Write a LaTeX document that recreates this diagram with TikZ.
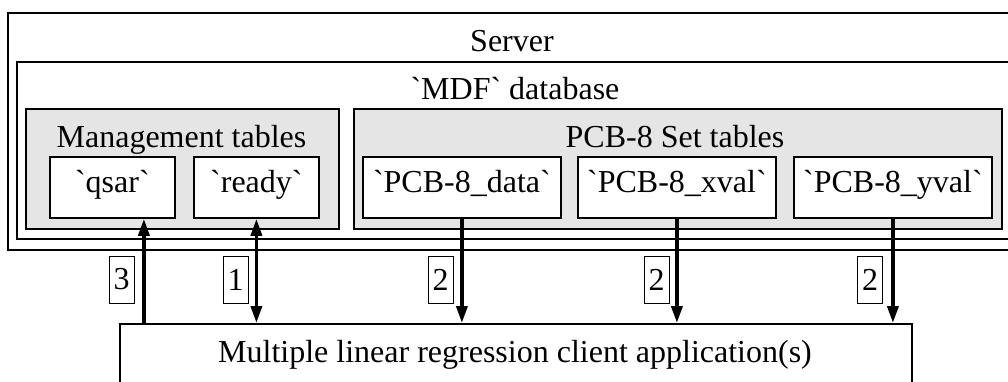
\documentclass[tikz,border=0pt]{standalone}
\usepackage{fontspec}
\setmainfont{Liberation Serif}
\usetikzlibrary{arrows.meta,calc}
\newcommand{\bq}{\textasciigrave}
\begin{document}
\begin{tikzpicture}[x=1pt,y=-1pt,
  txt/.style={font=\fontsize{32}{34}\selectfont},
  box/.style={draw, line width=1.8pt, inner sep=0pt, anchor=north west},
  container/.style={box, fill=gray!20},
  tbl/.style={box, txt, fill=white, minimum height=61pt, text height=22pt, text depth=11pt},
  title/.style={txt, inner sep=0pt, anchor=base},
  tag/.style={txt, draw, line width=1pt, minimum width=25pt, minimum height=47pt, inner sep=0pt},
  flow/.style={line width=3.6pt, -{Triangle[width=11pt,length=17pt]}},
  flowboth/.style={line width=3.6pt, {Triangle[width=11pt,length=17pt]}-{Triangle[width=11pt,length=17pt]}},
]
\useasboundingbox (0,0) rectangle (1008,381);
\clip (0,0) rectangle (1008,381);
% containers
\node[box, minimum width=1030pt, minimum height=237pt] (server) at (7,12) {};
\node[box, minimum width=1020pt, minimum height=177pt] (mdf) at (16,61) {};
\node[container, minimum width=313pt, minimum height=120pt] (mgmt) at (25,108) {};
\node[container, minimum width=648pt, minimum height=120pt] (pcbset) at (353,108) {};
% titles
\node[title] (servert) at (512,51) {Server};
\node[title] (mdft) at (515,99) {\bq MDF\bq\ database};
\node[title] (mgmtt) at (181.5,147) {Management tables};
\node[title] (pcbt) at (675,147) {PCB-8 Set tables};
% tables
\node[tbl, minimum width=125pt] (qsar) at (49,156) {\bq qsar\bq};
\node[tbl, minimum width=125pt] (ready) at (193,156) {\bq ready\bq};
\node[tbl, minimum width=198pt] (data) at (362,156) {\bq PCB-8\_data\bq};
\node[tbl, minimum width=198pt] (xval) at (577,156) {\bq PCB-8\_xval\bq};
\node[tbl, minimum width=198pt] (yval) at (793,156) {\bq PCB-8\_yval\bq};
% client
\node[box, minimum width=792pt, minimum height=80pt, fill=white] (client) at (119,323) {};
\node[title] (clientt) at (515,362) {Multiple linear regression client application(s)};
% connectors
\coordinate (qa) at ($(qsar.south)+(31.5,0)$);
\draw[flow] (client.north -| qa) -- (qa);
\draw[flowboth] (client.north -| ready.south) -- (ready.south);
\draw[flow] (data.south) -- (data.south |- client.north);
\draw[flow] (xval.south) -- (xval.south |- client.north);
\draw[flow] (yval.south) -- (yval.south |- client.north);
% tags
\node[tag] (t3) at (121.5,279.5) {3};
\node[tag] (t1) at (235.5,279.5) {1};
\node[tag] (t2a) at (440.5,279.5) {2};
\node[tag] (t2b) at (656.5,279.5) {2};
\node[tag] (t2c) at (870,279.5) {2};
\end{tikzpicture}
\end{document}
